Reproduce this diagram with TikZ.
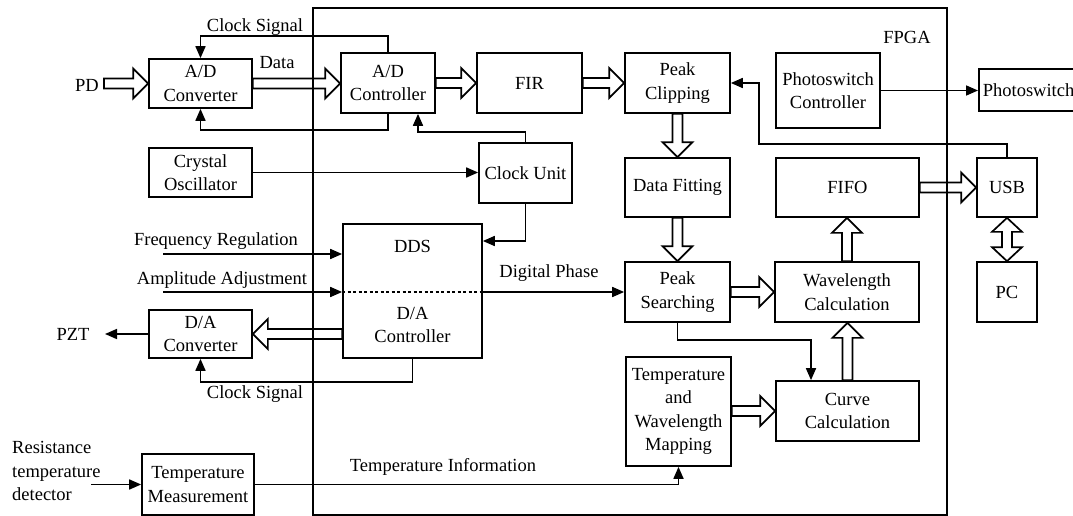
\documentclass[tikz,border=0pt]{standalone}
\usepackage{fontspec}
\setmainfont{Liberation Serif}
\usetikzlibrary{arrows.meta,calc}
\newcommand\hollowH[2]{\draw[hol] let \p1=(#1), \p2=(#2), \n1={sign(\x2-\x1)} in
  (\x1,\y1+5pt) -- (\x2-\n1*15pt,\y1+5pt) -- (\x2-\n1*15pt,\y1+15pt) -- (\x2,\y1) --
  (\x2-\n1*15pt,\y1-15pt) -- (\x2-\n1*15pt,\y1-5pt) -- (\x1,\y1-5pt) -- cycle;}
\newcommand\hollowV[2]{\draw[hol] let \p1=(#1), \p2=(#2), \n1={sign(\y2-\y1)} in
  (\x1+5pt,\y1) -- (\x1+5pt,\y2-\n1*15pt) -- (\x1+15pt,\y2-\n1*15pt) -- (\x1,\y2) --
  (\x1-15pt,\y2-\n1*15pt) -- (\x1-5pt,\y2-\n1*15pt) -- (\x1-5pt,\y1) -- cycle;}
\newcommand\hollowVV[2]{\draw[hol] let \p1=(#1), \p2=(#2), \n1={sign(\y2-\y1)} in
  (\x1,\y1) -- (\x1+15pt,\y1+\n1*14pt) -- (\x1+5pt,\y1+\n1*14pt) -- (\x1+5pt,\y2-\n1*14pt) --
  (\x1+15pt,\y2-\n1*14pt) -- (\x1,\y2) -- (\x1-15pt,\y2-\n1*14pt) -- (\x1-5pt,\y2-\n1*14pt) --
  (\x1-5pt,\y1+\n1*14pt) -- (\x1-15pt,\y1+\n1*14pt) -- cycle;}
\begin{document}
\begin{tikzpicture}[x=1pt,y=-1pt,
  every node/.style={font={\fontsize{18.5}{23.5}\selectfont}, inner sep=1pt},
  box/.style={draw, line width=1.7pt, align=center, inner sep=2pt},
  arr/.style={line width=1.7pt, -{Triangle[length=12pt,width=10pt]}},
  ln/.style={line width=1.7pt},
  hol/.style={line width=1.7pt, line join=miter}]
\useasboundingbox (0,0) rectangle (1073,516);
\clip (0,0) rectangle (1073,516);

% FPGA frame
\draw[ln] (313,8) rectangle (947,515);
\node (lfpga) at (907,37) {FPGA};

% boxes
\node[box, minimum width=103pt, minimum height=49pt] (adc) at (200.5,83.5) {A/D\\Converter};
\node[box, minimum width=94pt, minimum height=60pt] (adctl) at (388,83) {A/D\\Controller};
\node[box, minimum width=103pt, minimum height=49pt] (crys) at (200.5,172.5) {Crystal\\Oscillator};
\node[box, minimum width=93pt, minimum height=60pt] (clk) at (525.5,173) {Clock Unit};
\node[box, minimum width=105pt, minimum height=60pt] (fir) at (529.5,83) {FIR};
\node[box, minimum width=105pt, minimum height=60pt] (pclip) at (677.5,83) {Peak\\Clipping};
\node[box, minimum width=104pt, minimum height=75pt] (psc) at (828,90.5) {Photoswitch\\Controller};
\node[box, anchor=west, minimum height=42pt, text width=120pt, align=left, inner sep=4pt] (ps) at (978,90) {Photoswitch};
\node[box, minimum width=105pt, minimum height=59pt] (dfit) at (677.5,187.5) {Data Fitting};
\node[box, minimum width=143pt, minimum height=59pt] (fifo) at (847.5,187.5) {FIFO};
\node[box, minimum width=60pt, minimum height=59pt] (usb) at (1007,187.5) {USB};
\node[box, minimum width=139pt, minimum height=134pt] (dds) at (412.5,291) {};
\node (ddst) at (412.5,246) {DDS};
\node[align=center] (dact) at (412.5,325) {D/A\\Controller};
\node[box, minimum width=103pt, minimum height=48pt] (dac) at (200.5,334) {D/A\\Converter};
\node[box, minimum width=105pt, minimum height=60pt] (psearch) at (677.5,292) {Peak\\Searching};
\node[box, minimum width=144pt, minimum height=60pt] (wcal) at (847,292) {Wavelength\\Calculation};
\node[box, minimum width=60pt, minimum height=60pt] (pc) at (1007,292) {PC};
\node[box, minimum width=143pt, minimum height=60pt] (curve) at (847.5,411) {Curve\\Calculation};
\node[box, minimum width=105pt, minimum height=109pt] (map) at (678.5,411.5) {Temperature\\and\\Wavelength\\Mapping};
\node[box, minimum width=112pt, minimum height=61pt] (tm) at (198,484.5) {Temperature\\Measurement};

% helper coordinates
\coordinate (pdL) at (104,83.5);
\coordinate (yclk) at (0,241);
\coordinate (yfr) at (163,254);
\coordinate (yam) at (163,292);
\coordinate (pzt) at (105,334);
\coordinate (rtd) at (91,484.5);
\coordinate (fb) at (759,144);

% hollow (bus) arrows
\hollowH{pdL}{adc.west}
\hollowH{adc.east}{adctl.west |- adc.east}
\hollowH{adctl.east}{fir.west}
\hollowH{fir.east}{pclip.west}
\hollowV{pclip.south}{dfit.north}
\hollowV{dfit.south}{psearch.north}
\hollowH{psearch.east}{wcal.west}
\hollowV{wcal.north}{fifo.south}
\hollowV{curve.north}{wcal.south}
\hollowH{map.east |- curve.west}{curve.west}
\hollowH{fifo.east}{usb.west}
\hollowVV{usb.south}{pc.north}
\hollowH{dds.west |- dac.east}{dac.east}

% signal arrows
\draw[arr] (adctl.north) -- ++(0,-16) -| (adc.north);
\draw[arr] (adctl.south) -- ++(0,16) -| (adc.south);
\draw[arr] (clk.north) -- ++(0,-10) -| ([xshift=30pt]adctl.south);
\draw[arr] (crys.east) -- (crys.east -| clk.west);
\draw[arr] (clk.south) |- (dds.east |- yclk);
\draw[arr] (yfr) -- (dds.west |- yfr);
\draw[arr] (yam) -- (dds.west |- yam);
\draw[ln, dash pattern=on 3pt off 2.5pt] (dds.west |- yam) -- (dds.east |- yam);
\draw[arr] (dds.east |- yam) -- (psearch.west);
\draw[arr] (dac.west) -- (pzt);
\draw[arr] (dds.south) -- ++(0,23) -| (dac.south);
\draw[arr] (psearch.south) -- ++(0,17) -| ([xshift=-36.5pt]curve.north);
\draw[arr] (tm.east) -| (map.south);
\draw[arr] (rtd) -- (tm.west);
\draw[arr] (usb.north) |- (fb) |- (pclip.east);
\draw[arr] (psc.east) -- (psc.east -| ps.west);

% labels
\node (lclk1) at (255,27) {Clock Signal};
\node (ldata) at (277,63) {Data};
\node (lpd) at (87,85) {PD};
\node (lfr) at (216,241) {Frequency Regulation};
\node (lam) at (222,280) {Amplitude Adjustment};
\node (ldp) at (549,273) {Digital Phase};
\node (lpzt) at (73,334) {PZT};
\node (lclk2) at (255,394) {Clock Signal};
\node (lti) at (443,467) {Temperature Information};
\node[anchor=west, align=left] (lrtd) at (11,471) {Resistance\\temperature\\detector};
\end{tikzpicture}
\end{document}
